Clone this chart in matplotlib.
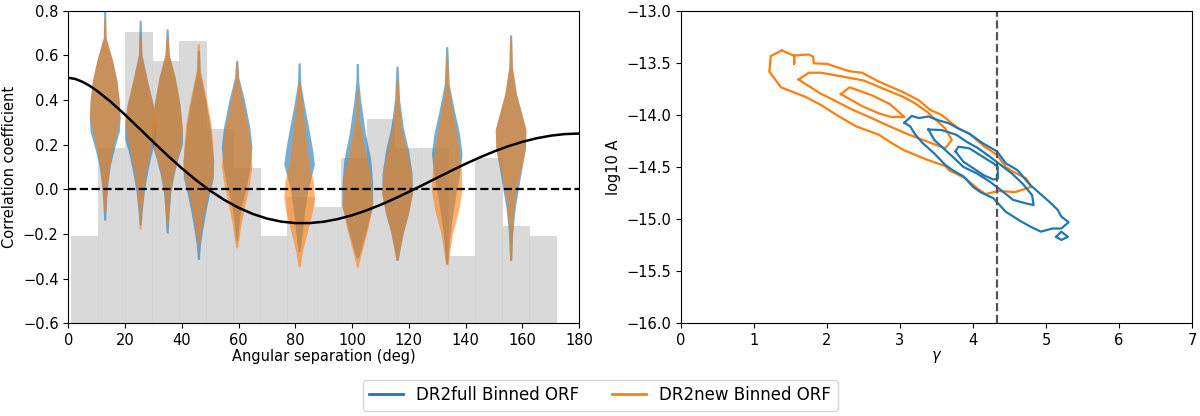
import numpy as np
import matplotlib.pyplot as plt
from matplotlib.lines import Line2D

# --- left panel: binned ORF ---
bin_edges = [0.9, 10.4, 19.9, 29.4, 38.9, 48.4, 57.9, 67.4, 76.9, 86.4,
             95.9, 105.4, 114.9, 124.4, 133.9, 143.4, 152.9, 162.4, 171.9]
bin_tops = [-0.21, 0.185, 0.705, 0.575, 0.663, 0.27, 0.097, -0.21, -0.033,
            -0.079, 0.14, 0.315, 0.184, 0.184, -0.297, 0.14, -0.166, -0.21]

# Hellings-Downs curve
hd_angle = [0, 2.5, 5, 7.5, 10, 15, 20, 25, 30, 35, 40, 45, 50, 55, 60, 65, 70, 75, 80, 85,
            90, 95, 100, 105, 110, 115, 120, 125, 130, 135, 140, 145, 150, 155, 160, 165,
            170, 175, 180]
hd_value = [0.5, 0.4944, 0.4816, 0.464, 0.4425, 0.3917, 0.334, 0.2732, 0.2116, 0.1514,
            0.0942, 0.0414, -0.0061, -0.0476, -0.0824, -0.1102, -0.1309, -0.1444, -0.1511,
            -0.1511, -0.1449, -0.1329, -0.1159, -0.0945, -0.0693, -0.0413, -0.0111, 0.0203,
            0.0522, 0.0839, 0.1145, 0.1433, 0.1697, 0.1931, 0.213, 0.2289, 0.2405, 0.2476,
            0.25]

violin_pos = [13, 25.5, 35, 46, 59.5, 81.5, 102, 116, 133.5, 156]

# violin profiles: correlation value and relative half-width
full_y = [
    [-0.14, -0.045, 0.03, 0.105, 0.18, 0.258, 0.318, 0.39, 0.482, 0.572, 0.676, 0.80],
    [-0.16, -0.10, -0.013, 0.078, 0.15, 0.225, 0.30, 0.378, 0.48, 0.60, 0.755],
    [-0.197, -0.13, -0.02, 0.066, 0.14, 0.20, 0.26, 0.378, 0.50, 0.60, 0.716],
    [-0.316, -0.25, -0.19, -0.10, -0.025, 0.05, 0.127, 0.20, 0.29, 0.378, 0.527, 0.62],
    [-0.23, -0.167, -0.078, 0.012, 0.10, 0.19, 0.28, 0.40, 0.50, 0.576],
    [-0.28, -0.19, -0.10, -0.01, 0.05, 0.11, 0.17, 0.258, 0.378, 0.47, 0.564],
    [-0.31, -0.26, -0.17, -0.08, 0.025, 0.13, 0.25, 0.40, 0.48, 0.561],
    [-0.32, -0.29, -0.20, -0.11, -0.02, 0.07, 0.175, 0.28, 0.40, 0.55],
    [-0.335, -0.23, -0.12, -0.02, 0.066, 0.155, 0.245, 0.35, 0.47, 0.637],
    [-0.32, -0.20, -0.08, 0.01, 0.10, 0.175, 0.265, 0.34, 0.425, 0.545, 0.69],
]
full_w = [
    [3, 6, 10, 17, 29, 44, 46, 44, 37, 24, 4, 3],
    [3, 6, 12, 22, 32, 45, 45, 38, 22, 5, 3],
    [3, 5, 10, 20, 32, 44, 44, 37, 23, 6, 3],
    [3, 6, 12, 22, 32, 44, 45, 40, 34, 24, 5, 3],
    [3, 6, 14, 29, 41, 46, 39, 23, 6, 3],
    [3, 10, 16, 25, 35, 45, 40, 30, 15, 5, 3],
    [3, 12, 27, 42, 42, 37, 22, 9, 4, 3],
    [3, 6, 17, 32, 43, 42, 32, 17, 7, 3],
    [3, 8, 17, 27, 37, 44, 37, 22, 7, 3],
    [3, 6, 14, 24, 34, 43, 45, 32, 17, 5, 3],
]
new_y = [
    [-0.10, -0.045, 0.03, 0.105, 0.18, 0.258, 0.318, 0.39, 0.482, 0.572, 0.676, 0.76],
    [-0.18, -0.10, -0.013, 0.078, 0.15, 0.225, 0.30, 0.378, 0.48, 0.60, 0.68],
    [-0.16, -0.13, -0.02, 0.066, 0.14, 0.20, 0.26, 0.378, 0.50, 0.60, 0.68],
    [-0.25, -0.19, -0.10, -0.025, 0.05, 0.127, 0.20, 0.29, 0.378, 0.527, 0.65],
    [-0.264, -0.167, -0.078, 0.012, 0.10, 0.19, 0.28, 0.40, 0.50, 0.565],
    [-0.35, -0.28, -0.19, -0.10, -0.04, 0.035, 0.11, 0.23, 0.378, 0.482],
    [-0.35, -0.33, -0.26, -0.17, -0.065, 0.055, 0.175, 0.32, 0.44],
    [-0.32, -0.29, -0.20, -0.11, -0.02, 0.07, 0.175, 0.28, 0.40, 0.487],
    [-0.34, -0.29, -0.20, -0.095, -0.005, 0.095, 0.215, 0.35, 0.47, 0.592],
    [-0.32, -0.20, -0.08, 0.01, 0.10, 0.175, 0.265, 0.34, 0.425, 0.545, 0.668],
]
new_w = [
    [3, 5, 9, 15, 24, 36, 46, 44, 37, 24, 4, 3],
    [3, 5, 9, 17, 27, 37, 45, 38, 22, 5, 3],
    [3, 4, 9, 18, 30, 40, 44, 37, 23, 6, 3],
    [3, 8, 17, 28, 42, 45, 42, 37, 27, 6, 3],
    [3, 12, 24, 37, 46, 41, 34, 17, 5, 3],
    [3, 10, 25, 40, 46, 42, 30, 20, 10, 3],
    [3, 5, 17, 32, 45, 40, 22, 5, 3],
    [3, 6, 16, 32, 43, 40, 27, 12, 5, 3],
    [3, 8, 17, 35, 45, 42, 32, 17, 5, 3],
    [3, 5, 10, 18, 32, 43, 45, 32, 17, 5, 3],
]

# --- right panel: gamma / log10 A contours ---
new_outer_g = [1.38, 1.54, 1.55, 1.55, 1.55, 1.75, 1.81, 1.82, 2.0, 2.30, 2.48, 2.71, 3.04, 3.26,
               3.41, 3.57, 3.80, 3.95, 4.15, 4.33, 4.45, 4.55, 4.73, 4.80, 4.58, 4.35, 4.17,
               4.05, 3.90, 3.67, 3.62, 3.37, 3.06, 2.91, 2.71, 2.40, 2.13, 1.92, 1.70, 1.37,
               1.21, 1.23, 1.38]
new_outer_a = [-13.38, -13.43, -13.43, -13.51, -13.43, -13.42, -13.44, -13.505, -13.51, -13.58,
               -13.595, -13.68, -13.78, -13.86, -13.95, -14.00, -14.13, -14.18, -14.30, -14.385,
               -14.50, -14.545, -14.61, -14.69, -14.74, -14.73, -14.76, -14.70, -14.61, -14.53,
               -14.49, -14.43, -14.34, -14.28, -14.19, -14.11, -14.00, -13.905, -13.825,
               -13.735, -13.585, -13.435, -13.38]
new_mid_g = [1.61, 1.75, 1.92, 2.20, 2.505, 2.76, 3.04, 3.21, 3.37, 3.52, 3.62, 3.71, 3.62,
             3.39, 3.26, 3.09, 2.86, 2.61, 2.35, 2.10, 1.90, 1.61]
new_mid_a = [-13.66, -13.595, -13.595, -13.63, -13.67, -13.745, -13.825, -13.89, -13.97,
             -14.065, -14.13, -14.24, -14.32, -14.26, -14.225, -14.18, -14.11, -14.03, -13.95,
             -13.86, -13.79, -13.66]
new_inner_g = [2.19, 2.31, 2.61, 2.86, 3.06, 2.88, 2.71, 2.48, 2.19]
new_inner_a = [-13.80, -13.735, -13.81, -13.895, -14.02, -14.02, -13.985, -13.915, -13.80]

full_outer_g = [3.06, 3.16, 3.26, 3.39, 3.52, 3.67, 3.80, 3.95, 4.13, 4.33, 4.45, 4.61, 4.78,
                4.91, 5.04, 5.16, 5.21, 5.31, 5.21, 5.09, 4.93, 4.78, 4.63, 4.45, 4.28, 4.10,
                4.00, 3.87, 3.72, 3.62, 3.47, 3.31, 3.21, 3.14, 3.06]
full_outer_a = [-14.075, -14.01, -14.03, -14.015, -14.05, -14.08, -14.13, -14.18, -14.27,
                -14.35, -14.465, -14.53, -14.67, -14.75, -14.83, -14.91, -14.975, -15.03,
                -15.09, -15.09, -15.12, -15.07, -15.01, -14.93, -14.80, -14.74, -14.69,
                -14.59, -14.53, -14.48, -14.37, -14.27, -14.19, -14.11, -14.075]
full_island_g = [5.14, 5.21, 5.30, 5.21, 5.14]
full_island_a = [-15.17, -15.12, -15.17, -15.20, -15.17]
full_mid_g = [3.39, 3.57, 3.77, 3.92, 4.07, 4.23, 4.38, 4.53, 4.68, 4.81, 4.83, 4.73, 4.55,
              4.38, 4.23, 4.05, 3.87, 3.72, 3.57, 3.47, 3.39]
full_mid_a = [-14.14, -14.145, -14.19, -14.26, -14.32, -14.40, -14.48, -14.56, -14.66, -14.77,
              -14.865, -14.85, -14.815, -14.72, -14.64, -14.56, -14.50, -14.40, -14.305,
              -14.24, -14.14]
full_inner_g = [3.76, 3.80, 3.95, 4.13, 4.28, 4.34, 4.34, 4.28, 4.15, 4.00, 3.87, 3.76]
full_inner_a = [-14.35, -14.305, -14.32, -14.40, -14.465, -14.50, -14.61, -14.62, -14.58,
                -14.51, -14.45, -14.35]

gamma_ref = 13 / 3

labels = ['DR2full Binned ORF', 'DR2new Binned ORF']
colors = ['C0', 'C1']

plt.rcParams['font.size'] = 10.5

fig = plt.figure(figsize=(12, 4.16), dpi=100)
ax1 = fig.add_axes([0.0569, 0.2228, 0.4258, 0.7514])
ax2 = fig.add_axes([0.5675, 0.2228, 0.4258, 0.7514])

# gray binned bars
edges = np.array(bin_edges)
ax1.bar(edges[:-1], np.array(bin_tops) + 0.6, width=np.diff(edges), bottom=-0.6,
        align='edge', color='#d9d9d9', edgecolor='#d3d3d3', linewidth=0.5, zorder=0)


def make_stats(ys, ws):
    ys = np.array(ys)
    return dict(coords=ys, vals=np.array(ws, float), mean=ys.mean(),
                median=np.median(ys), min=ys.min(), max=ys.max())


for ys_list, ws_list, col in [(full_y, full_w, 'C0'), (new_y, new_w, 'C1')]:
    stats = [make_stats(y, w) for y, w in zip(ys_list, ws_list)]
    parts = ax1.violin(stats, positions=violin_pos, widths=10.8, showextrema=False)
    for body in parts['bodies']:
        body.set_facecolor(col)
        body.set_edgecolor('none')
        body.set_alpha(0.6)
        body.set_zorder(2)

ax1.plot(hd_angle, hd_value, color='k', lw=1.8, zorder=4)
ax1.axhline(0, color='k', ls='--', lw=1.6, zorder=4)
ax1.set_xlim(0, 180)
ax1.set_ylim(-0.6, 0.8)
ax1.set_xticks(np.arange(0, 181, 20))
ax1.set_yticks(np.arange(-0.6, 0.81, 0.2))
ax1.set_xlabel('Angular separation (deg)', labelpad=1)
ax1.set_ylabel('Correlation coefficient')

# contours
for g, a in [(new_outer_g, new_outer_a), (new_mid_g, new_mid_a), (new_inner_g, new_inner_a)]:
    ax2.plot(g, a, color='C1', lw=1.6)
for g, a in [(full_outer_g, full_outer_a), (full_island_g, full_island_a),
             (full_mid_g, full_mid_a), (full_inner_g, full_inner_a)]:
    ax2.plot(g, a, color='C0', lw=1.6)
ax2.axvline(gamma_ref, color='#555555', ls='--', lw=1.6)
ax2.set_xlim(0, 7)
ax2.set_ylim(-16, -13)
ax2.set_yticks(np.arange(-16, -12.9, 0.5))
ax2.set_xlabel(r'$\gamma$', labelpad=1)
ax2.set_ylabel('log10 A')

handles = [Line2D([], [], color=c, lw=2) for c in colors]
fig.legend(handles, labels, loc='center', bbox_to_anchor=(0.5, 0.05), ncol=2, fontsize=12)

fig.savefig('out.png', dpi=100)
